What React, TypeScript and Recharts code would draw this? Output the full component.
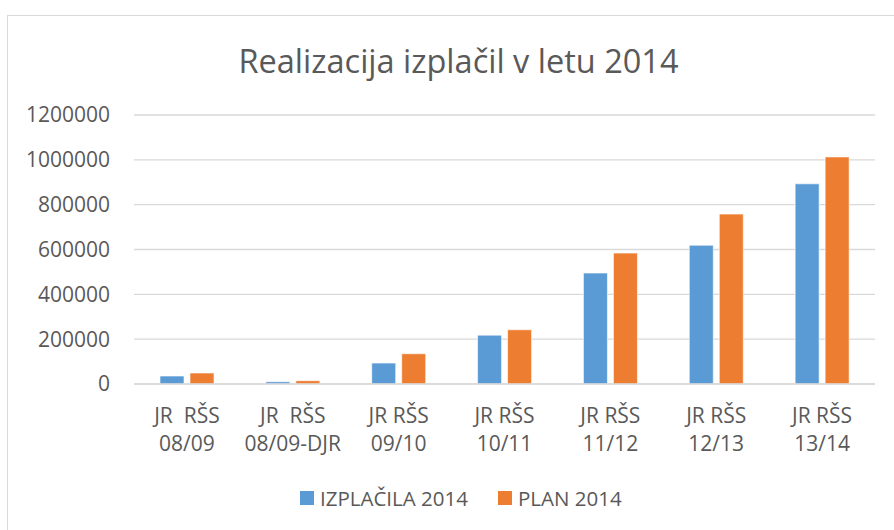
import { BarChart, Bar, XAxis, YAxis, CartesianGrid, Legend } from "recharts";

const labelTop = ["JR  RŠS", "JR  RŠS", "JR RŠS", "JR RŠS", "JR RŠS", "JR RŠS", "JR RŠS"];
const periods = ["08/09", "08/09-DJR", "09/10", "10/11", "11/12", "12/13", "13/14"];
const izplacila = [35600, 10000, 93500, 218000, 495000, 619000, 893000];
const plan = [49000, 14700, 135000, 242000, 584000, 758000, 1013000];
const yTicks = [0, 200000, 400000, 600000, 800000, 1000000, 1200000];

const data = periods.map((p, i) => ({
  name: p,
  top: labelTop[i],
  izplacila: izplacila[i],
  plan: plan[i],
}));

const FONT = "'Open Sans', sans-serif";
const GREY = "#595959";

function CategoryTick(props: any) {
  const { x, y, payload, index } = props;
  return (
    <text
      x={x}
      y={y}
      textAnchor="middle"
      fill={GREY}
      fontSize={21}
      fontFamily={FONT}
      style={{ whiteSpace: "pre" }}
    >
      <tspan x={x} dy={39}>
        {labelTop[index ?? 0]}
      </tspan>
      <tspan x={x} dy={28}>
        {payload.value}
      </tspan>
    </text>
  );
}

function LegendBox(props: any) {
  const items = props.payload || [];
  return (
    <div style={{ display: "flex", fontFamily: FONT, fontSize: 20.5, color: GREY, paddingLeft: 300 }}>
      {items.map((it: any, i: number) => (
        <div
          key={i}
          style={{ display: "flex", alignItems: "center", marginRight: 30 }}
        >
          <span
            style={{ width: 14, height: 14, background: it.color, display: "inline-block", marginRight: 6 }}
          />
          <span>{it.value}</span>
        </div>
      ))}
    </div>
  );
}

export default function App() {
  return (
    <div
      style={{
        position: "absolute",
        left: 0,
        top: 0,
        width: 894,
        height: 530,
        overflow: "hidden",
        background: "#fff",
      }}
    >
      <div
        style={{
          position: "absolute",
          left: 7,
          top: 15,
          width: 920,
          height: 600,
          border: "1.5px solid #d9d9d9",
        }}
      />
      <div
        style={{
          position: "absolute",
          left: 0,
          top: 45,
          width: 917,
          textAlign: "center",
          fontFamily: FONT,
          fontSize: 32.5,
          lineHeight: "32px",
          color: GREY,
        }}
      >
        Realizacija izplačil v letu 2014
      </div>
      <div style={{ position: "absolute", left: 0, top: 0 }}>
        <BarChart
          width={894}
          height={530}
          data={data}
          margin={{ top: 115, right: 19, left: 34, bottom: 116 }}
          barGap={6}
          barSize={24}
        >
          <CartesianGrid vertical={false} stroke="#d9d9d9" strokeWidth={1.3} />
          <XAxis
            dataKey="name"
            axisLine={{ stroke: "#d9d9d9", strokeWidth: 1.3 }}
            tickLine={false}
            tickSize={0}
            tickMargin={0}
            height={30}
            interval={0}
            tick={<CategoryTick />}
          />
          <YAxis
            width={100}
            domain={[0, 1200000]}
            ticks={yTicks}
            axisLine={false}
            tickLine={false}
            tickSize={0}
            tickMargin={24}
            tick={{ fill: GREY, fontSize: 21, fontFamily: FONT }}
          />
          <Legend
            verticalAlign="middle"
            layout="horizontal"
            wrapperStyle={{ top: 484, left: 0, width: 894 }}
            content={<LegendBox />}
          />
          <Bar
            dataKey="izplacila"
            name="IZPLAČILA 2014"
            fill="#5b9bd5"
            stroke="#ffffff"
            strokeWidth={0.6}
            isAnimationActive={false}
          />
          <Bar
            dataKey="plan"
            name="PLAN 2014"
            fill="#ed7d31"
            stroke="#ffffff"
            strokeWidth={0.6}
            isAnimationActive={false}
          />
        </BarChart>
      </div>
    </div>
  );
}
